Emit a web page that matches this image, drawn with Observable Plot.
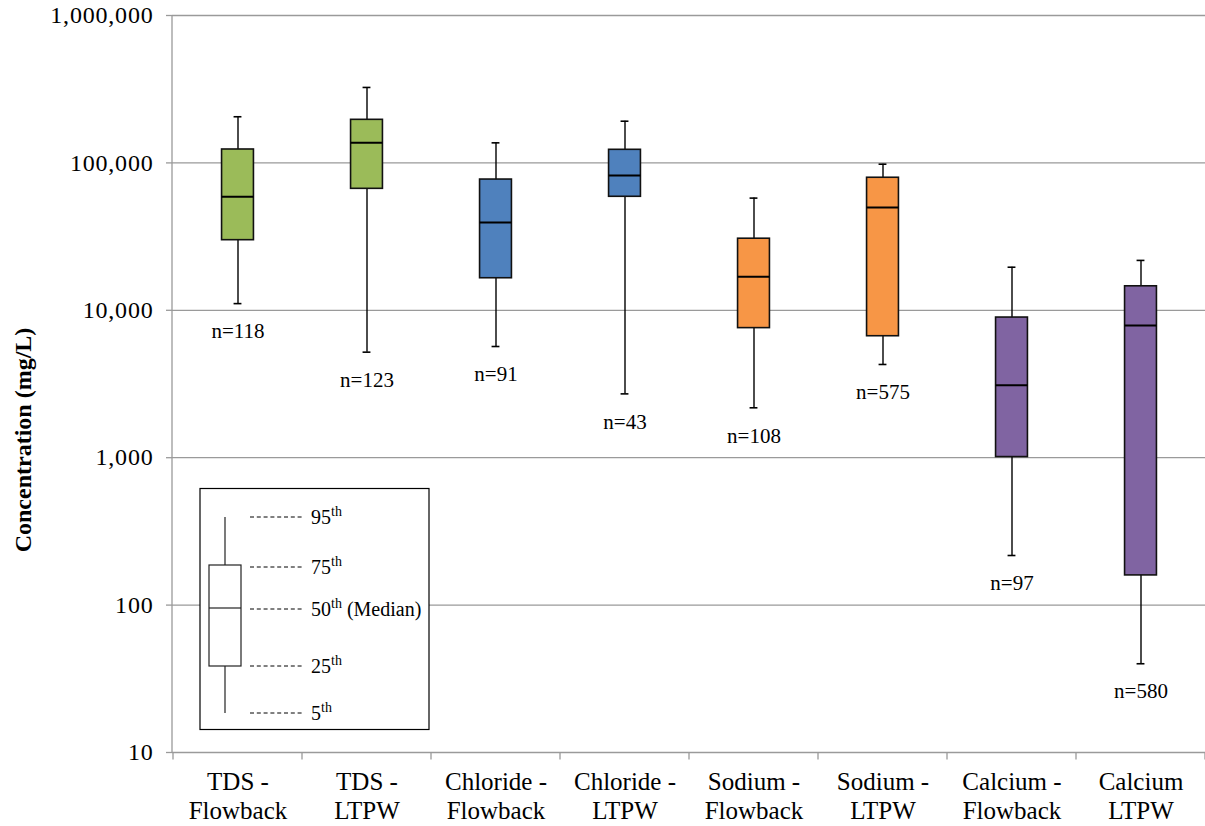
<!DOCTYPE html>
<html><head><meta charset="utf-8">
<script src="https://cdn.jsdelivr.net/npm/d3@7"></script>
<script src="https://cdn.jsdelivr.net/npm/@observablehq/plot@0.6"></script>
<style>
body{margin:0;background:#fff;}
#wrap{position:relative;width:1205px;height:826px;font-family:"Liberation Serif","Times New Roman",serif;}
#legend{position:absolute;left:0;top:0;pointer-events:none;}
g[aria-label="y-axis tick label"] text{letter-spacing:0.8px;}
</style></head><body><div id="wrap"></div>
<script>
// ---- data ----
const categories = ["TDS -\nFlowback","TDS -\nLTPW","Chloride -\nFlowback","Chloride -\nLTPW","Sodium -\nFlowback","Sodium -\nLTPW","Calcium -\nFlowback","Calcium\nLTPW"];
const groups = ["TDS","TDS","Chloride","Chloride","Sodium","Sodium","Calcium","Calcium"];
const p95 = [205600, 325000, 136800, 191800, 57700, 98000, 19600, 21800];
const p75 = [123300, 196000, 77100, 122700, 30600, 79300, 8930, 14550];
const p50 = [58900, 137000, 39400, 82200, 16900, 49800, 3100, 7890];
const p25 = [29900, 66700, 16500, 58900, 7570, 6670, 1010, 159];
const p5  = [11100, 5200, 5680, 2710, 2180, 4290, 217, 40];
const counts = [118, 123, 91, 43, 108, 575, 97, 580];
const groupNames = ["TDS","Chloride","Sodium","Calcium"];
const groupColors = ["#9BBB59","#4F81BD","#F79646","#8064A2"];
const yTicks = [10, 100, 1000, 10000, 100000, 1000000];
const yTitle = "Concentration (mg/L)";
const legendItems = [["95","th",""],["75","th",""],["50","th"," (Median)"],["25","th",""],["5","th",""]];

// ---- layout ----
const W = 1205, H = 826, ML = 172, MR = 0, MT = 15, MB = 74;
const bandW = (W - ML - MR) / categories.length;
const BOX_W = 32, CAP_W = 8;
const boxInset = (bandW - BOX_W) / 2, capInset = (bandW - CAP_W) / 2;
const FONT = '"Liberation Serif","Times New Roman",serif';
const GRID = "#9a9a9a";

const rows = categories.map((c, i) => ({cat: c, group: groups[i], p5: p5[i], p25: p25[i], p50: p50[i], p75: p75[i], p95: p95[i], n: counts[i]}));

const frameMarks = (index, scales, values, dims) => {
  const g = d3.create("svg:g");
  const x = scales.x;
  const bounds = categories.map(c => x(c)).concat([dims.width - dims.marginRight]);
  const yb = dims.height - dims.marginBottom;
  g.append("line").attr("x1", dims.marginLeft).attr("x2", dims.marginLeft)
    .attr("y1", dims.marginTop).attr("y2", yb).attr("stroke", GRID).attr("stroke-width", 1.3);
  g.selectAll("line.t").data(bounds).join("line").attr("class","t")
    .attr("x1", d => d).attr("x2", d => d).attr("y1", yb).attr("y2", yb + 7.5)
    .attr("stroke", GRID).attr("stroke-width", 1.3);
  return g.node();
};

const chart = Plot.plot({
  width: W, height: H,
  marginLeft: ML, marginRight: MR, marginTop: MT, marginBottom: MB,
  style: {fontFamily: FONT, color: "#000", background: "#fff"},
  x: {type: "band", domain: categories, padding: 0},
  y: {type: "log", domain: [10, 1000000]},
  color: {domain: groupNames, range: groupColors},
  marks: [
    Plot.ruleY(yTicks, {stroke: GRID, strokeWidth: 1.3}),
    frameMarks,
    Plot.ruleX(rows, {x: "cat", y1: "p5", y2: "p95", stroke: "#000", strokeWidth: 1.4}),
    Plot.tickY(rows, {x: "cat", y: "p95", stroke: "#000", strokeWidth: 1.6, insetLeft: capInset, insetRight: capInset}),
    Plot.tickY(rows, {x: "cat", y: "p5", stroke: "#000", strokeWidth: 1.6, insetLeft: capInset, insetRight: capInset}),
    Plot.barY(rows, {x: "cat", y1: "p25", y2: "p75", fill: "group", stroke: "#111", strokeWidth: 1.6, insetLeft: boxInset, insetRight: boxInset}),
    Plot.tickY(rows, {x: "cat", y: "p50", stroke: "#000", strokeWidth: 2, insetLeft: boxInset, insetRight: boxInset}),
    Plot.text(rows, {x: "cat", y: "p5", text: d => "n=" + d.n, dy: 28, fontSize: 21, fill: "#000"}),
    Plot.axisY(yTicks, {tickFormat: d3.format(","), fontSize: 24, tickSize: 6, tickPadding: 13, stroke: GRID, strokeWidth: 1.3, label: null, fill: "#000"}),
    Plot.axisX({tickSize: 0, tickPadding: 17, fontSize: 25, lineHeight: 1.16, label: null, fill: "#000"}),
    Plot.text([yTitle], {frameAnchor: "left", textAnchor: "middle", rotate: -90, dx: -149, dy: 56, fontWeight: "bold", fontSize: 24, fill: "#000"})
  ]
});
document.getElementById("wrap").appendChild(chart);

// ---- explanatory legend (box-plot key) ----
const lg = d3.select("#wrap").append("svg").attr("id", "legend").attr("width", W).attr("height", H);
lg.append("rect").attr("x", 200).attr("y", 488.5).attr("width", 229).attr("height", 241)
  .attr("fill", "#fff").attr("stroke", "#000").attr("stroke-width", 1.2);
lg.append("line").attr("x1", 225).attr("x2", 225).attr("y1", 517).attr("y2", 713).attr("stroke", "#222").attr("stroke-width", 1.2);
lg.append("rect").attr("x", 209).attr("y", 565).attr("width", 32).attr("height", 101)
  .attr("fill", "#fff").attr("stroke", "#222").attr("stroke-width", 1.2);
lg.append("line").attr("x1", 209).attr("x2", 241).attr("y1", 608).attr("y2", 608).attr("stroke", "#222").attr("stroke-width", 1.2);
const ly = [517, 567, 609, 666, 713];
legendItems.forEach((it, i) => {
  lg.append("line").attr("x1", 250).attr("x2", 303).attr("y1", ly[i]).attr("y2", ly[i])
    .attr("stroke", "#000").attr("stroke-width", 1).attr("stroke-dasharray", "4,2.8");
  const t = lg.append("text").attr("x", 311).attr("y", ly[i] + 7).attr("font-family", FONT).attr("font-size", 20).attr("fill", "#000");
  t.append("tspan").text(it[0]);
  t.append("tspan").attr("dy", -8).attr("font-size", 14).text(it[1]);
  if (it[2]) t.append("tspan").attr("dy", 8).text(it[2]);
});
</script></body></html>
